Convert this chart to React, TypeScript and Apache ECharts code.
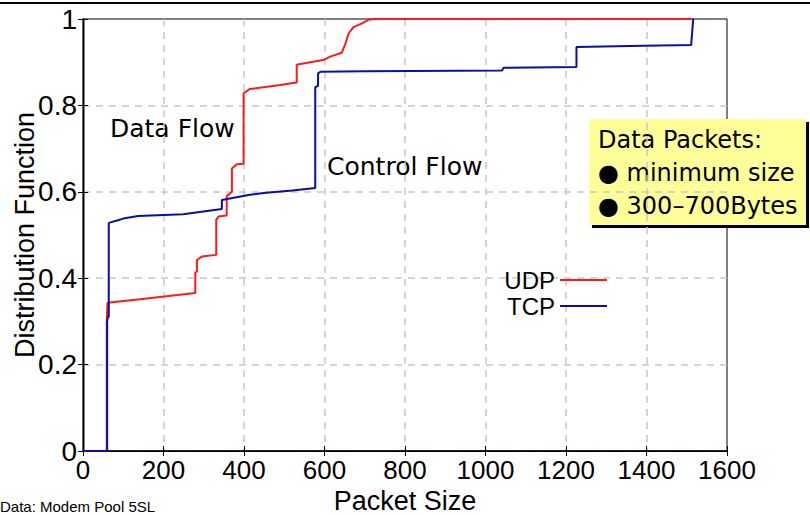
import React, { useEffect, useRef } from "react";
import * as echarts from "echarts";

const xTicks = [0, 200, 400, 600, 800, 1000, 1200, 1400, 1600];
const yTicks = [0, 0.2, 0.4, 0.6, 0.8, 1];

const udpX = [0, 59, 59, 61, 142, 279, 279, 283, 283, 295, 331, 331, 337, 355, 357, 357, 365, 370, 370, 382, 399, 399, 411, 415, 490, 531, 531, 540, 597, 614, 643, 652, 660, 672, 693, 709, 725, 1516];
const udpY = [0, 0, 0.30, 0.343, 0.351, 0.366, 0.413, 0.415, 0.442, 0.45, 0.454, 0.535, 0.543, 0.545, 0.545, 0.59, 0.596, 0.60, 0.654, 0.664, 0.665, 0.828, 0.836, 0.838, 0.847, 0.853, 0.894, 0.896, 0.905, 0.913, 0.922, 0.943, 0.967, 0.981, 0.99, 0.998, 1, 1];

const tcpX = [0, 60, 60, 62, 64, 64, 87, 100, 137, 249, 345, 345, 415, 455, 520, 577, 577, 584, 584, 590, 700, 1041, 1045, 1226, 1226, 1393, 1511, 1516];
const tcpY = [0, 0, 0.30, 0.31, 0.31, 0.528, 0.534, 0.538, 0.544, 0.548, 0.56, 0.581, 0.593, 0.598, 0.603, 0.609, 0.842, 0.845, 0.874, 0.878, 0.879, 0.881, 0.887, 0.889, 0.935, 0.938, 0.94, 1.0];

const seriesNames = ["UDP", "TCP"];
const seriesColors = ["#ff1a1a", "#0c0ca6"];
const boxLines = ["Data Packets:", "\u25CF minimum size", "\u25CF 300\u2013700Bytes"];
const annotations = ["Data Flow", "Control Flow"];
const footnote = "Data: Modem Pool 5SL";

const sansNarrow = "'Liberation Sans', Arial, sans-serif";
const sansWide = "'DejaVu Sans', 'Open Sans', sans-serif";

export default function App() {
  const ref = useRef<HTMLDivElement>(null);
  useEffect(() => {
    if (!ref.current) return;
    const chart = echarts.init(ref.current, null, { renderer: "svg" });
    const udp = udpX.map((x, i) => [x, udpY[i]]);
    const tcp = tcpX.map((x, i) => [x, tcpY[i]]);
    const splitLine = {
      show: true,
      showMinLine: false,
      showMaxLine: false,
      lineStyle: { color: "#c8c8c8", type: [7, 6], width: 1.5 },
    };
    chart.setOption({
      animation: false,
      backgroundColor: "#ffffff",
      grid: {
        left: 83,
        right: 83,
        top: 19,
        bottom: 64,
        show: true,
        borderColor: "#000",
        borderWidth: 1,
        containLabel: false,
        outerBoundsMode: "none",
      },
      legend: {
        data: seriesNames,
        orient: "vertical",
        align: "right",
        right: 198,
        top: 263,
        itemWidth: 47,
        itemHeight: 2,
        itemGap: 2,
        icon: "rect",
        textStyle: { fontSize: 24, color: "#000", fontFamily: sansNarrow },
      },
      xAxis: [
        {
          type: "value",
          min: 0,
          max: 1600,
          interval: 200,
          axisLine: { show: true, lineStyle: { color: "#000", width: 1.5 } },
          axisTick: { show: true, inside: true, length: 5, lineStyle: { color: "#000" } },
          axisLabel: {
            fontSize: 26,
            color: "#000",
            margin: 6,
            fontFamily: sansNarrow,
            formatter: (v: number) => (xTicks.includes(v) ? String(v) : ""),
          },
          splitLine,
          name: "Packet Size",
          nameLocation: "middle",
          nameGap: 36,
          nameTextStyle: { fontSize: 27, color: "#000", fontFamily: sansNarrow },
        },
        {
          type: "value",
          position: "top",
          min: 0,
          max: 1600,
          interval: 200,
          axisLine: { show: true, lineStyle: { color: "#000", width: 1 } },
          axisTick: { show: true, inside: true, length: 5, lineStyle: { color: "#000" } },
          axisLabel: { show: false },
          splitLine: { show: false },
        },
      ],
      yAxis: [
        {
          type: "value",
          min: 0,
          max: 1,
          interval: 0.2,
          axisLine: { show: true, lineStyle: { color: "#5a5a5a", width: 2.5 } },
          axisTick: { show: true, inside: true, length: 5, lineStyle: { color: "#000" } },
          axisLabel: {
            fontSize: 28,
            color: "#000",
            margin: 6,
            fontFamily: sansNarrow,
            formatter: (v: number) => {
              const t = yTicks.find((y) => Math.abs(y - v) < 1e-9);
              return t === undefined ? "" : String(t);
            },
          },
          splitLine,
          name: "Distribution Function",
          nameLocation: "middle",
          nameGap: 45,
          nameMoveOverlap: false,
          nameTextStyle: { fontSize: 27, color: "#000", fontFamily: sansNarrow },
        },
        {
          type: "value",
          position: "right",
          min: 0,
          max: 1,
          interval: 0.2,
          axisLine: { show: true, lineStyle: { color: "#000", width: 1 } },
          axisTick: { show: true, inside: true, length: 5, lineStyle: { color: "#000" } },
          axisLabel: { show: false },
          splitLine: { show: false },
        },
      ],
      series: [
        {
          name: seriesNames[0],
          type: "line",
          data: udp,
          showSymbol: false,
          symbol: "none",
          color: seriesColors[0],
          lineStyle: { width: 2, color: seriesColors[0] },
          xAxisIndex: 0,
          yAxisIndex: 0,
        },
        {
          name: seriesNames[1],
          type: "line",
          data: tcp,
          showSymbol: false,
          symbol: "none",
          color: seriesColors[1],
          lineStyle: { width: 2, color: seriesColors[1] },
          xAxisIndex: 0,
          yAxisIndex: 0,
        },
      ],
      graphic: [
        { type: "line", shape: { x1: 0, y1: 3, x2: 810, y2: 3 }, style: { stroke: "#000", lineWidth: 2 } },
        {
          type: "text",
          left: 110,
          top: 116,
          style: { text: annotations[0], fontSize: 25, fill: "#000", fontFamily: sansWide },
        },
        {
          type: "text",
          left: 327,
          top: 154,
          style: { text: annotations[1], fontSize: 25, fill: "#000", fontFamily: sansWide },
        },
        { type: "rect", shape: { x: 592, y: 122, width: 217, height: 106 }, style: { fill: "#000" } },
        { type: "rect", shape: { x: 589, y: 119, width: 217, height: 106 }, style: { fill: "#ffff99" } },
        {
          type: "text",
          x: 598,
          y: 123,
          style: {
            text: boxLines.join("\n"),
            fontSize: 24,
            lineHeight: 33,
            fill: "#000",
            fontFamily: sansWide,
          },
        },
        {
          type: "text",
          x: 0,
          y: 499,
          style: { text: footnote, fontSize: 15, fill: "#000", fontFamily: sansNarrow },
        },
      ],
    });
    return () => chart.dispose();
  }, []);
  return <div ref={ref} style={{ width: 810, height: 515, position: "fixed", left: 0, top: 0 }} />;
}
